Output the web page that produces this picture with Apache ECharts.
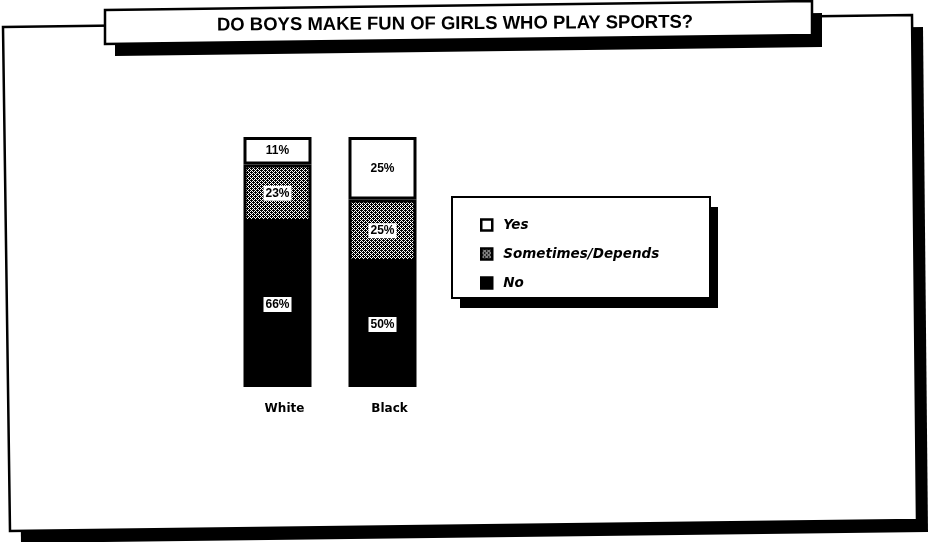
<!DOCTYPE html>
<html>
<head>
<meta charset="utf-8">
<script src="https://cdn.jsdelivr.net/npm/echarts@6/dist/echarts.min.js"></script>
<style>
  html, body { margin: 0; padding: 0; background: #fff; }
  #chart { width: 930px; height: 542px; }
</style>
</head>
<body>
<div id="chart"></div>
<script>
const categories = ["White", "Black"];
const noValues = [66, 50];
const sometimesValues = [23, 25];
const yesValues = [11, 25];
const legendNames = ["Yes", "Sometimes/Depends", "No"];
const titleText = "DO BOYS MAKE FUN OF GIRLS WHO PLAY SPORTS?";

// dithered grey fill like the printed pattern
const makePattern = () => {
  const c = document.createElement("canvas");
  c.width = 4;
  c.height = 4;
  const ctx = c.getContext("2d");
  ctx.fillStyle = "#fff";
  ctx.fillRect(0, 0, 4, 4);
  ctx.fillStyle = "#000";
  for (let y = 0; y < 4; y++) {
    for (let x = 0; x < 4; x++) {
      if ((x + y) % 2 === 0) ctx.fillRect(x, y, 1, 1);
    }
  }
  // a few extra dots so it reads darker
  ctx.fillRect(1, 2, 1, 1);
  ctx.fillRect(3, 0, 1, 1);
  return c;
};

const myChart = echarts.init(document.getElementById("chart"));

const barLabel = {
  show: true,
  position: "inside",
  formatter: "{c}%",
  color: "#000",
  backgroundColor: "#fff",
  padding: [2, 2, 1, 2],
  fontSize: 12,
  fontWeight: "bold",
  fontFamily: "Liberation Sans"
};

const shifted = (pts, dx, dy) => pts.map(p => [p[0] + dx, p[1] + dy]);
const framePts = [[3, 27], [912, 15], [917, 520], [10, 531]];
const titlePts = [[105, 10], [812, 1], [812, 35], [105, 44]];
const legendPts = [[452, 197], [710, 197], [710, 298], [452, 298]];

const option = {
  animation: false,
  backgroundColor: "#fff",
  graphic: [
    { type: "polygon", shape: { points: shifted(framePts, 11, 12) }, style: { fill: "#000" } },
    { type: "polygon", shape: { points: framePts }, style: { fill: "#fff", stroke: "#000", lineWidth: 2.5 } },
    { type: "polygon", shape: { points: shifted(titlePts, 10, 12) }, style: { fill: "#000" } },
    { type: "polygon", shape: { points: titlePts }, style: { fill: "#fff", stroke: "#000", lineWidth: 2.5 } },
    {
      type: "text",
      x: 455,
      y: 24,
      rotation: 0.006,
      style: {
        text: titleText,
        x: 0,
        y: 0,
        align: "center",
        verticalAlign: "middle",
        fill: "#000",
        font: "bold 18.5px 'Liberation Sans', Arial, sans-serif"
      }
    },
    { type: "polygon", shape: { points: shifted(legendPts, 8, 10) }, style: { fill: "#000" } },
    { type: "polygon", shape: { points: legendPts }, style: { fill: "#fff", stroke: "#000", lineWidth: 2 } }
  ],
  legend: {
    data: legendNames,
    orient: "vertical",
    left: 475,
    top: 213,
    itemWidth: 11,
    itemHeight: 11,
    itemGap: 15,
    icon: "rect",
    itemStyle: { borderColor: "#000", borderWidth: 2.5 },
    textStyle: {
      color: "#000",
      fontSize: 13.5,
      fontWeight: "bold",
      fontStyle: "italic",
      fontFamily: "DejaVu Sans",
      padding: [0, 0, 0, 6]
    }
  },
  grid: { left: 225, width: 210, top: 137, height: 250 },
  xAxis: {
    type: "category",
    data: categories,
    axisLine: { show: false },
    axisTick: { show: false },
    axisLabel: {
      margin: 16,
      color: "#000",
      fontSize: 12,
      fontWeight: "bold",
      fontFamily: "DejaVu Sans",
      padding: [0, 0, 0, 14]
    }
  },
  yAxis: { type: "value", min: 0, max: 100, show: false },
  series: [
    {
      name: "No",
      type: "bar",
      stack: "all",
      barWidth: 68,
      data: noValues,
      itemStyle: { color: "#000", borderColor: "#000", borderWidth: 3 },
      label: barLabel
    },
    {
      name: "Sometimes/Depends",
      type: "bar",
      stack: "all",
      barWidth: 68,
      data: sometimesValues,
      itemStyle: { color: { image: makePattern(), repeat: "repeat" }, borderColor: "#000", borderWidth: 3 },
      label: barLabel
    },
    {
      name: "Yes",
      type: "bar",
      stack: "all",
      barWidth: 68,
      data: yesValues,
      itemStyle: { color: "#fff", borderColor: "#000", borderWidth: 3 },
      label: barLabel
    }
  ]
};

myChart.setOption(option);
</script>
</body>
</html>
